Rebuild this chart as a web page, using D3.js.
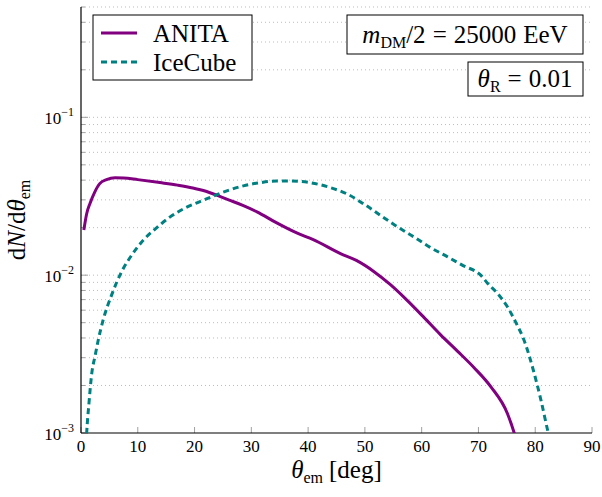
<!DOCTYPE html>
<meta charset="utf-8">
<html>
  <head>
    <style>
      body { margin: 0; background: #fff; }
      svg text { font-family: "Liberation Serif", "DejaVu Serif", serif; fill: #000; }
    </style>
  </head>
  <body>
    <div id="chart"></div>
  </body>

<script src="https://d3js.org/d3.v7.min.js"></script>
<script>
// emission angle spectra
var anitaTheta = [0.5, 1.0, 1.6, 2.4, 3.3, 4.5, 6.0, 7.5, 10, 13.9, 17, 19.7, 22, 23.9, 26, 28.5, 31, 34.4, 38, 40.9, 45.7, 48.5, 51.5, 54.5, 57.4, 60.4, 63.3, 66.3, 69.2, 72.2, 75.1, 76.3, 77]
var anitaValue = [0.0193, 0.0245, 0.0286, 0.0335, 0.038, 0.0403, 0.0414, 0.0413, 0.0403, 0.0386, 0.0372, 0.0357, 0.034, 0.0321, 0.03, 0.0277, 0.0252, 0.0215, 0.0185, 0.0168, 0.0137, 0.0124, 0.0106, 0.0087, 0.00695, 0.0054, 0.0042, 0.0033, 0.0026, 0.00196, 0.00133, 0.001, 0.0008]

var iceTheta = [0.9, 1.0, 1.4, 1.9, 2.5, 3.05, 3.9, 5.4, 7.2, 9, 11, 13, 15.7, 18.5, 21.5, 25, 28.6, 31.5, 34.4, 37, 40.3, 44, 47, 50.3, 52.7, 55.5, 58.6, 61.5, 64.5, 67.3, 70.4, 71.6, 73.3, 75.1, 76.6, 78, 79.8, 81, 82.3, 82.8]
var iceValue = [0.00085, 0.001, 0.00154, 0.00239, 0.0031, 0.0039, 0.0052, 0.0075, 0.0106, 0.0135, 0.0167, 0.0195, 0.0234, 0.0268, 0.0298, 0.0335, 0.0368, 0.0385, 0.0395, 0.0395, 0.0386, 0.0358, 0.0325, 0.0275, 0.024, 0.0205, 0.0175, 0.015, 0.0131, 0.0115, 0.01, 0.0089, 0.0077, 0.0063, 0.005, 0.0039, 0.0024, 0.00162, 0.001, 0.00085]

var seriesNames = ["ANITA", "IceCube"]
var xTicks = [0, 10, 20, 30, 40, 50, 60, 70, 80, 90]
var yMajor = [1e-3, 1e-2, 1e-1]
var yExponents = ["\u22123", "\u22122", "\u22121"]

var margin = {top: 7, right: 10, bottom: 64, left: 81},
    width = 602 - margin.left - margin.right,
    height = 497 - margin.top - margin.bottom;

var svg = d3.select("#chart")
  .append("svg")
    .attr("width", 602)
    .attr("height", 497)
  .append("g")
    .attr("transform", "translate(" + margin.left + "," + margin.top + ")")

var x = d3.scaleLinear().domain([0, 90]).range([0, width])
var y = d3.scaleLog().domain([1e-3, 0.5]).range([height, 0])

// minor + major log grid values
var gridVals = []
for (var k = -3; k <= -1; k++) {
  for (var m = 1; m <= 9; m++) {
    var v = m * Math.pow(10, k)
    if (v <= 0.5 + 1e-9) gridVals.push(v)
  }
}

// dotted grid
svg.selectAll(".grid")
  .data(gridVals.filter(function(d){ return d > 1e-3 }))
  .enter().append("line")
    .attr("x1", 0).attr("x2", width)
    .attr("y1", function(d){ return y(d) }).attr("y2", function(d){ return y(d) })
    .style("stroke", "#bdbdbd")
    .style("stroke-width", 1)
    .style("stroke-dasharray", "1,3")

// y ticks (inward, grey)
svg.selectAll(".ytick")
  .data(gridVals)
  .enter().append("line")
    .attr("x1", 0)
    .attr("x2", function(d){ return yMajor.indexOf(d) >= 0 ? 7 : 4 })
    .attr("y1", function(d){ return y(d) }).attr("y2", function(d){ return y(d) })
    .style("stroke", "#a0a0a0")

// x ticks (inward, grey)
svg.selectAll(".xtick")
  .data(xTicks)
  .enter().append("line")
    .attr("x1", function(d){ return x(d) }).attr("x2", function(d){ return x(d) })
    .attr("y1", height).attr("y2", height - 6)
    .style("stroke", "#a0a0a0")

// x tick labels
svg.selectAll(".xlab")
  .data(xTicks)
  .enter().append("text")
    .attr("x", function(d){ return x(d) })
    .attr("y", height + 19)
    .attr("text-anchor", "middle")
    .style("font-size", "17px")
    .text(function(d){ return d })

// y tick labels 10^k
var ylab = svg.selectAll(".ylab")
  .data(yMajor)
  .enter().append("text")
    .attr("x", -7)
    .attr("y", function(d){ return y(d) + 7 })
    .attr("text-anchor", "end")
    .style("font-size", "17px")
ylab.append("tspan").text("10")
ylab.append("tspan")
  .attr("dy", -8)
  .style("font-size", "12px")
  .text(function(d, i){ return yExponents[i] })

// axes lines
svg.append("line").attr("x1", 0).attr("x2", 0).attr("y1", 0).attr("y2", height)
  .style("stroke", "#000").style("stroke-width", 1.2)
svg.append("line").attr("x1", 0).attr("x2", width).attr("y1", height).attr("y2", height)
  .style("stroke", "#000").style("stroke-width", 1.2)

// curves
svg.append("clipPath").attr("id", "clip")
  .append("rect").attr("x", 0).attr("y", 0).attr("width", width).attr("height", height)

var line = d3.line()
  .x(function(d){ return x(d[0]) })
  .y(function(d){ return y(d[1]) })
  .curve(d3.curveMonotoneX)

var colors = ["#800080", "#008080"]
var dashes = [null, "6,4"]
var series = [
  d3.zip(anitaTheta, anitaValue),
  d3.zip(iceTheta, iceValue)
]

svg.append("g").attr("clip-path", "url(#clip)")
  .selectAll("path")
  .data(series)
  .enter().append("path")
    .attr("d", line)
    .style("fill", "none")
    .style("stroke", function(d, i){ return colors[i] })
    .style("stroke-width", 3)
    .style("stroke-dasharray", function(d, i){ return dashes[i] })

// legend
var lg = svg.append("g").attr("transform", "translate(" + (93 - margin.left) + "," + (15 - margin.top) + ")")
lg.append("rect").attr("width", 159).attr("height", 65)
  .style("fill", "#fff").style("stroke", "#000").style("stroke-width", 1)
seriesNames.forEach(function(name, i) {
  lg.append("line")
    .attr("x1", 8).attr("x2", 44)
    .attr("y1", 18 + i * 29).attr("y2", 18 + i * 29)
    .style("stroke", colors[i])
    .style("stroke-width", 3)
    .style("stroke-dasharray", dashes[i])
  lg.append("text")
    .attr("x", 60).attr("y", 27 + i * 29)
    .style("font-size", "25px")
    .text(name)
})

// annotation boxes
var a1 = svg.append("g").attr("transform", "translate(" + (347 - margin.left) + "," + (15 - margin.top) + ")")
a1.append("rect").attr("width", 236).attr("height", 39)
  .style("fill", "#fff").style("stroke", "#000")
var t1 = a1.append("text").attr("x", 118).attr("y", 28).attr("text-anchor", "middle").style("font-size", "25px")
t1.append("tspan").style("font-style", "italic").text("m")
t1.append("tspan").attr("dy", 5).style("font-size", "16px").text("DM")
t1.append("tspan").attr("dy", -5).text("/2")
t1.append("tspan").attr("dx", 7).text("=")
t1.append("tspan").attr("dx", 7).text("25000")
t1.append("tspan").attr("dx", 7).text("EeV")

var a2 = svg.append("g").attr("transform", "translate(" + (468 - margin.left) + "," + (62 - margin.top) + ")")
a2.append("rect").attr("width", 115).attr("height", 34)
  .style("fill", "#fff").style("stroke", "#000")
var t2 = a2.append("text").attr("x", 57).attr("y", 25).attr("text-anchor", "middle").style("font-size", "25px")
t2.append("tspan").style("font-style", "italic").text("\u03b8")
t2.append("tspan").attr("dy", 5).style("font-size", "16px").text("R")
t2.append("tspan").attr("dy", -5).attr("dx", 7).text("=")
t2.append("tspan").attr("dx", 7).text("0.01")

// axis titles
var xt = svg.append("text")
  .attr("x", x(45))
  .attr("y", height + 45)
  .attr("text-anchor", "middle")
  .style("font-size", "25px")
xt.append("tspan").style("font-style", "italic").text("\u03b8")
xt.append("tspan").attr("dy", 5).style("font-size", "16px").text("em")
xt.append("tspan").attr("dy", -5).attr("dx", 6).text("[deg]")

var yt = svg.append("text")
  .attr("transform", "translate(" + (25 - margin.left) + "," + (220 - margin.top) + ") rotate(-90)")
  .attr("text-anchor", "middle")
  .style("font-size", "25px")
yt.append("tspan").text("d")
yt.append("tspan").style("font-style", "italic").text("N")
yt.append("tspan").text("/d")
yt.append("tspan").style("font-style", "italic").text("\u03b8")
yt.append("tspan").attr("dy", 5).style("font-size", "16px").text("em")
</script>
</html>
